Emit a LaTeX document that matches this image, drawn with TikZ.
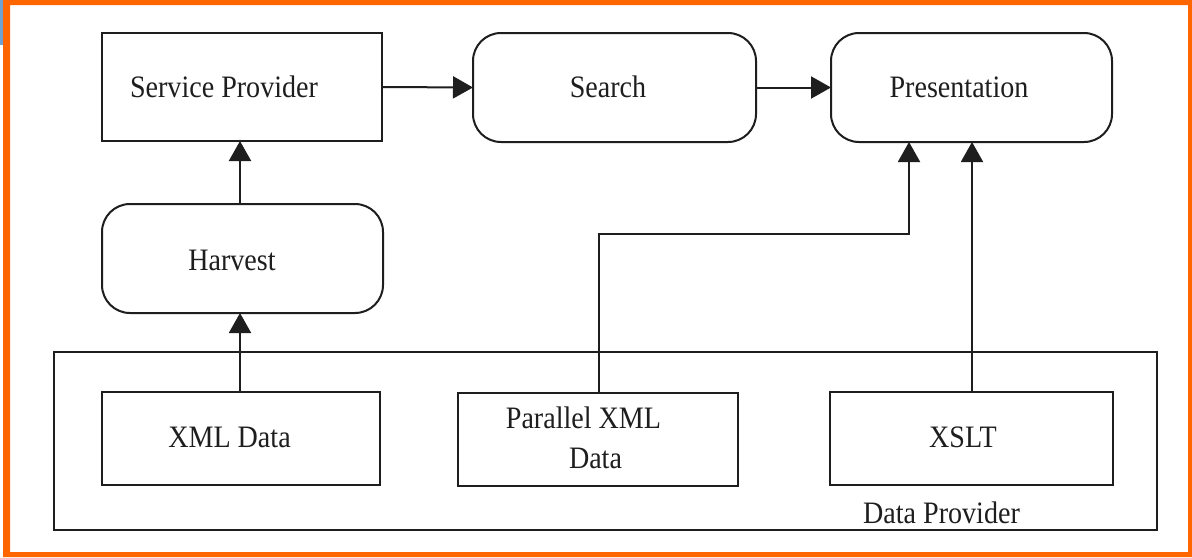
\documentclass[tikz,border=0pt]{standalone}
\usepackage{fontspec}
\setmainfont{Liberation Serif}
\newfontfamily\lblfont[FakeStretch=0.9]{Liberation Serif}
\usetikzlibrary{arrows.meta}
\definecolor{frameorange}{RGB}{255,102,0}
\definecolor{edgeblue}{RGB}{110,160,210}
\definecolor{ink}{RGB}{30,30,30}
\tikzset{
  box/.style={draw=ink, line width=1pt, inner sep=0pt, outer sep=0pt},
  plainbox/.style={box},
  roundbox/.style={box, rounded corners=14pt},
  lbl/.style={anchor=base, inner sep=0pt, text=ink, font=\lblfont\fontsize{15.6}{19}\selectfont},
  flow/.style={draw=ink, line width=1pt, -{Triangle[length=10pt,width=11pt]}},
  wire/.style={draw=ink, line width=1pt}
}
\begin{document}
\begin{tikzpicture}[x=0.5pt,y=-0.5pt]
\useasboundingbox (0,0) rectangle (1192,557);
\fill[white] (0,0) rectangle (1192,557);
% frame
\fill[edgeblue] (0,0) rectangle (3,45);
\fill[frameorange, even odd rule] (3,0) rectangle (1192,557) (10,5) rectangle (1188,552);

% top row
\node[plainbox, minimum width=140pt, minimum height=54pt] (sp) at (242,87) {};
\node[roundbox, minimum width=141.5pt, minimum height=54.5pt] (search) at (614.5,87.5) {};
\node[roundbox, minimum width=140.5pt, minimum height=54.5pt] (pres) at (971.5,87.5) {};
% harvest
\node[roundbox, minimum width=140.5pt, minimum height=54.5pt] (harvest) at (242.5,258.5) {};
% data provider group
\node[plainbox, minimum width=551.5pt, minimum height=89pt] (dp) at (605.5,441) {};
\node[plainbox, minimum width=139pt, minimum height=46.5pt] (xml) at (241,438.5) {};
\node[plainbox, minimum width=140pt, minimum height=46.5pt] (pxml) at (598,439.5) {};
\node[plainbox, minimum width=141.5pt, minimum height=46.5pt] (xslt) at (971.5,438.5) {};

% labels
\node[lbl] (tsp) at (224,97) {Service Provider};
\node[lbl] (tsearch) at (608,97) {Search};
\node[lbl] (tpres) at (959,97) {Presentation};
\node[lbl] (tharvest) at (232,270) {Harvest};
\node[lbl] (txml) at (229.5,447) {XML Data};
\node[lbl] (tpxml1) at (583.5,428) {Parallel XML};
\node[lbl] (tpxml2) at (595.5,468) {Data};
\node[lbl] (txslt) at (963,447) {XSLT};
\node[lbl] (tdp) at (941.5,523) {Data Provider};

% connectors
\draw[flow] (xml.north -| 240,0) -- (harvest.south -| 240,0);
\draw[flow] (harvest.north -| 240,0) -- (sp.south -| 240,0);
\draw[flow] (sp.east) -- (search.west);
\draw[flow] (search.east) -- (pres.west);
\coordinate (bend1) at (599,234);
\coordinate (bend2) at (909,234);
\draw[flow] (pxml.north -| bend1) -- (bend1) -- (bend2) -- (pres.south -| bend2);
\coordinate (xs) at (972,0);
\draw[flow] (xslt.north -| xs) -- (pres.south -| xs);
\end{tikzpicture}
\end{document}
